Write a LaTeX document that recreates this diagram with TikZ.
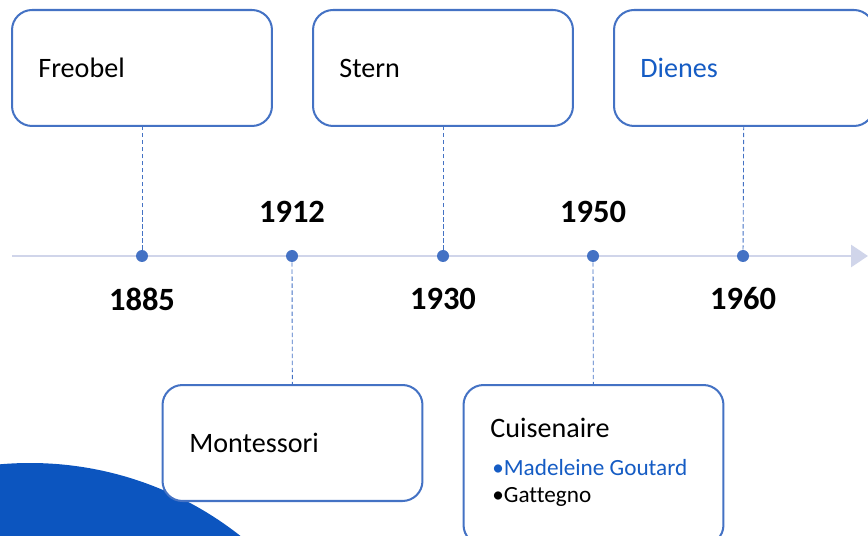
\documentclass[tikz,border=0pt]{standalone}
\usepackage{fontspec}
\setmainfont[Ligatures=NoCommon]{Carlito}
\usetikzlibrary{arrows.meta}

\definecolor{boxblue}{RGB}{68,114,196}
\definecolor{axisgrey}{RGB}{208,213,234}
\definecolor{nameblue}{RGB}{21,92,196}
\definecolor{blobblue}{RGB}{12,85,191}

\tikzset{
  evtbox/.style={draw=boxblue, line width=1.15pt, rounded corners=0.4cm, fill=white,
    minimum width=5.2cm, minimum height=2.32cm},
  evtname/.style={anchor=west, inner sep=0pt, font=\fontsize{16}{19}\selectfont},
  evtitem/.style={anchor=west, inner sep=0pt, font=\fontsize{13.2}{15}\selectfont},
  yearlabel/.style={font=\bfseries\fontsize{18.5}{21}\selectfont},
  yeardot/.style={circle, fill=boxblue, inner sep=0pt, minimum size=0.24cm},
  stem/.style={draw=boxblue, line width=0.5pt, dash pattern=on 2.5pt off 1.5pt},
}

\begin{document}
\begin{tikzpicture}[x=0.02cm, y=-0.02cm]
        \useasboundingbox (0,0) rectangle (868,536);
        \clip (0,0) rectangle (868,536);
        % blue shape in the corner
        \fill[blobblue] (30,803) circle (340);
        % time axis
        \coordinate (axisstart) at (12,256);
        \coordinate (axisend) at (868,256);
        \draw[axisgrey, line width=1.7pt, -{Triangle[length=0.34cm, width=0.44cm]}] (axisstart) -- (axisend);
        % boxes
        \node[evtbox] (freobel) at (142,68) {};
        \node[evtbox] (stern) at (443,68) {};
        \node[evtbox] (dienes) at (744,68) {};
        \node[evtbox] (montessori) at (292.5,443) {};
        \node[evtbox, minimum height=3.2cm] (cuisenaire) at (593.5,465) {};
        \node[evtname] (tfreobel) at (38,68) {Freobel};
        \node[evtname] (tstern) at (339,68) {Stern};
        \node[evtname, text=nameblue] (tdienes) at (640,68) {Dienes};
        \node[evtname] (tmontessori) at (189,443) {Montessori};
        \node[evtname] (tcuisenaire) at (490,428) {Cuisenaire};
        \node[evtitem, text=nameblue] (tgoutard) at (492,468) {\textbullet Madeleine Goutard};
        \node[evtitem] (tgattegno) at (492,497) {\textbullet Gattegno};
        % dots on the axis
        \node[yeardot] (d1885) at (142,256) {};
        \node[yeardot] (d1912) at (292,256) {};
        \node[yeardot] (d1930) at (443,256) {};
        \node[yeardot] (d1950) at (593,256) {};
        \node[yeardot] (d1960) at (743,256) {};
        % stems
        \draw[stem] (d1885) -- (freobel);
        \draw[stem] (d1912) -- (montessori);
        \draw[stem] (d1930) -- (stern);
        \draw[stem] (d1950) -- (cuisenaire);
        \draw[stem] (d1960) -- (dienes);
        % years
        \node[yearlabel] (y1885) at (142,299) {1885};
        \node[yearlabel] (y1912) at (292,212) {1912};
        \node[yearlabel] (y1930) at (443,299) {1930};
        \node[yearlabel] (y1950) at (593,212) {1950};
        \node[yearlabel] (y1960) at (743,299) {1960};
    \end{tikzpicture}
\end{document}
